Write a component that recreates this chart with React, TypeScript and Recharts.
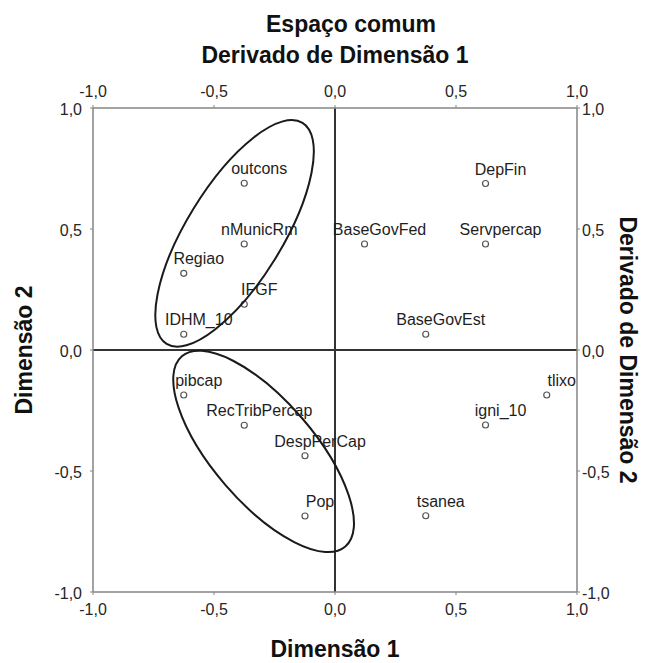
import React from 'react';
import {
  ScatterChart,
  Scatter,
  XAxis,
  YAxis,
  ReferenceLine,
  ReferenceDot,
} from 'recharts';

// ---------- data ----------
const pointLabels = [
  'outcons', 'nMunicRm', 'Regiao', 'IFGF', 'IDHM_10',
  'DepFin', 'BaseGovFed', 'Servpercap', 'BaseGovEst',
  'pibcap', 'RecTribPercap', 'DespPerCap', 'Pop',
  'tlixo', 'igni_10', 'tsanea',
];
const dimension1 = [
  -0.375, -0.375, -0.625, -0.375, -0.625,
  0.622, 0.122, 0.622, 0.375,
  -0.625, -0.375, -0.124, -0.124,
  0.875, 0.622, 0.375,
];
const dimension2 = [
  0.689, 0.438, 0.317, 0.189, 0.065,
  0.688, 0.438, 0.438, 0.065,
  -0.186, -0.311, -0.437, -0.686,
  -0.186, -0.31, -0.685,
];
const axisTicks = [-1, -0.5, 0, 0.5, 1];

// cluster ellipses (centre and semi-axes in data units, rotation in degrees)
const ellipseCenterX = [-0.415, -0.295];
const ellipseCenterY = [0.482, -0.419];
const ellipseSemiMajor = [0.536, 0.518];
const ellipseSemiMinor = [0.198, 0.21];
const ellipseAngle = [-58.4, 49.3];

const chartData = pointLabels.map((name, i) => ({ name, x: dimension1[i], y: dimension2[i] }));

// ---------- layout ----------
const W = 646;
const H = 663;
const PLOT_LEFT = 93;
const PLOT_TOP = 108;
const PLOT_W = 484;
const PLOT_H = 484;
const PX_PER_UNIT = PLOT_W / 2;
const FONT = '"Liberation Sans", Arial, sans-serif';
const TICK_COLOR = '#262626';
const TICK_FS = 16;
const TITLE_FS = 23;
const FRAME = '#858585';

const fmt = (v: number) => v.toFixed(1).replace('.', ',');

const makeTick = (anchor: 'start' | 'middle' | 'end', dx: number, dy: number) => (props: any) => (
  <text
    x={props.x + dx}
    y={props.y + dy}
    textAnchor={anchor}
    fill={TICK_COLOR}
    fontSize={TICK_FS}
    fontFamily={FONT}
  >
    {fmt(props.payload.value)}
  </text>
);

const PointShape = (props: any) => {
  const { cx, cy, payload } = props;
  if (cx == null || cy == null) return <g />;
  return (
    <g>
      <circle cx={cx} cy={cy} r={3} fill="#fff" stroke="#555" strokeWidth={1.2} />
      <text
        x={cx + 15}
        y={cy - 9}
        textAnchor="middle"
        fill="#1e1e1e"
        fontSize={TICK_FS}
        fontFamily={FONT}
      >
        {payload.name}
      </text>
    </g>
  );
};

const makeEllipse = (i: number) => (props: any) => (
  <ellipse
    cx={props.cx}
    cy={props.cy}
    rx={ellipseSemiMajor[i] * PX_PER_UNIT}
    ry={ellipseSemiMinor[i] * PX_PER_UNIT}
    transform={`rotate(${ellipseAngle[i]} ${props.cx} ${props.cy})`}
    fill="none"
    stroke="#1a1a1a"
    strokeWidth={2}
  />
);

const titleStyle = { fontSize: TITLE_FS, fontWeight: 700, fontFamily: FONT, fill: '#111' } as const;

const TopTitle = () => (
  <g>
    <text x={351} y={32} textAnchor="middle" {...titleStyle}>Espaço comum</text>
    <text x={PLOT_LEFT + PLOT_W / 2} y={63} textAnchor="middle" {...titleStyle}>Derivado de Dimensão 1</text>
  </g>
);
const BottomTitle = () => (
  <text x={PLOT_LEFT + PLOT_W / 2} y={657} textAnchor="middle" {...titleStyle}>Dimensão 1</text>
);
const LeftTitle = () => {
  const x0 = 32;
  const y0 = PLOT_TOP + PLOT_H / 2;
  return (
    <text x={x0} y={y0} textAnchor="middle" transform={`rotate(-90 ${x0} ${y0})`} {...titleStyle}>Dimensão 2</text>
  );
};
const RightTitle = () => {
  const x0 = 620;
  const y0 = PLOT_TOP + PLOT_H / 2;
  return (
    <text x={x0} y={y0} textAnchor="middle" transform={`rotate(90 ${x0} ${y0})`} {...titleStyle}>Derivado de Dimensão 2</text>
  );
};

export default function App() {
  return (
    <div style={{ position: 'absolute', left: 0, top: 0, width: W, height: H, background: '#fff' }}>
      <ScatterChart
        width={W}
        height={H}
        margin={{ top: PLOT_TOP - 30, left: PLOT_LEFT - 30, right: W - PLOT_LEFT - PLOT_W - 30, bottom: H - PLOT_TOP - PLOT_H - 30 }}
      >
        <XAxis
          xAxisId={0}
          dataKey="x"
          type="number"
          domain={[-1, 1]}
          ticks={axisTicks}
          allowDataOverflow
          orientation="bottom"
          height={30}
          tickSize={3}
          tickMargin={2}
          axisLine={{ stroke: FRAME, strokeWidth: 1.5 }}
          tickLine={{ stroke: FRAME }}
          tick={makeTick('middle', 0, 18)}
          label={<BottomTitle />}
        />
        <XAxis
          xAxisId="top"
          dataKey="x"
          type="number"
          domain={[-1, 1]}
          ticks={axisTicks}
          allowDataOverflow
          orientation="top"
          height={30}
          tickSize={3}
          tickMargin={2}
          axisLine={{ stroke: FRAME, strokeWidth: 1.5 }}
          tickLine={{ stroke: FRAME }}
          tick={makeTick('middle', 0, -6.5)}
          label={<TopTitle />}
        />
        <YAxis
          yAxisId={0}
          dataKey="y"
          type="number"
          domain={[-1, 1]}
          ticks={axisTicks}
          allowDataOverflow
          orientation="left"
          width={30}
          tickSize={3}
          tickMargin={2}
          axisLine={{ stroke: FRAME, strokeWidth: 1.5 }}
          tickLine={{ stroke: FRAME }}
          tick={makeTick('end', -6, 7)}
          label={<LeftTitle />}
        />
        <YAxis
          yAxisId="right"
          dataKey="y"
          type="number"
          domain={[-1, 1]}
          ticks={axisTicks}
          allowDataOverflow
          orientation="right"
          width={30}
          tickSize={3}
          tickMargin={2}
          axisLine={{ stroke: FRAME, strokeWidth: 1.5 }}
          tickLine={{ stroke: FRAME }}
          tick={makeTick('start', 0, 7)}
          label={<RightTitle />}
        />
        <ReferenceLine x={0} xAxisId={0} yAxisId={0} stroke="#333" strokeWidth={2} />
        <ReferenceLine y={0} xAxisId={0} yAxisId={0} stroke="#333" strokeWidth={2} />
        <Scatter
          data={chartData}
          xAxisId="top"
          yAxisId="right"
          isAnimationActive={false}
          shape={() => <g />}
        />
        <Scatter
          data={chartData}
          xAxisId={0}
          yAxisId={0}
          isAnimationActive={false}
          shape={PointShape}
        />
        {ellipseCenterX.map((cx, i) => (
          <ReferenceDot
            key={`ell-${i}`}
            x={cx}
            y={ellipseCenterY[i]}
            xAxisId={0}
            yAxisId={0}
            shape={makeEllipse(i)}
          />
        ))}
      </ScatterChart>
    </div>
  );
}
